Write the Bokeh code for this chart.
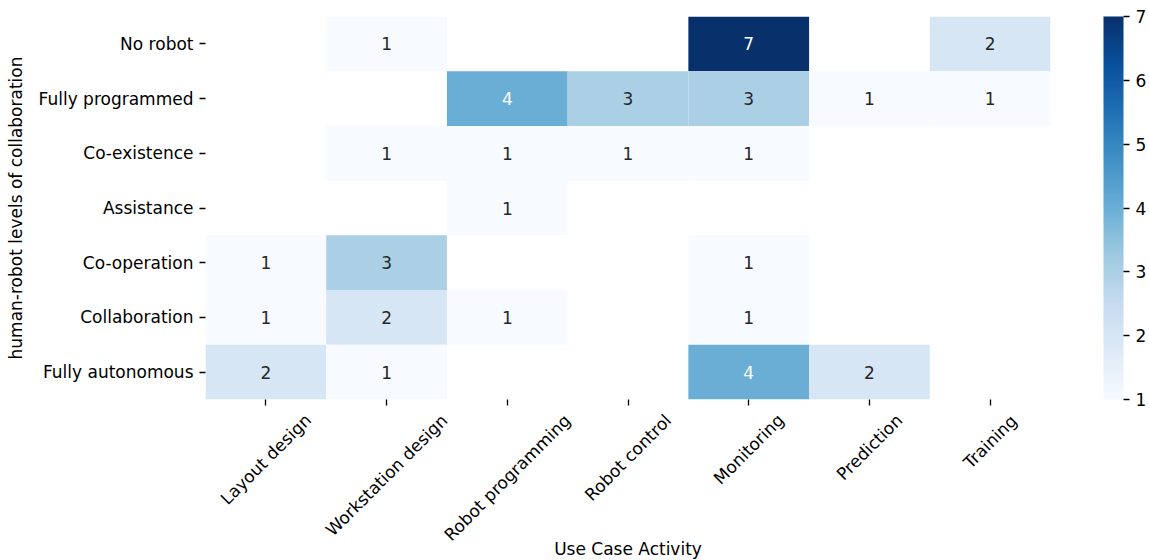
from math import pi, sqrt

from bokeh.plotting import figure
from bokeh.layouts import column
from bokeh.models import (ColumnDataSource, LinearColorMapper, ColorBar,
                          FixedTicker, Range1d)
from bokeh.palettes import Blues256
from bokeh.core.properties import value
from bokeh.embed import file_html
from bokeh.resources import INLINE

activities = ["Layout design", "Workstation design", "Robot programming",
              "Robot control", "Monitoring", "Prediction", "Training"]
levels = ["No robot", "Fully programmed", "Co-existence", "Assistance",
          "Co-operation", "Collaboration", "Fully autonomous"]

# number of studies per collaboration level and use-case activity (None = none)
no_robot = [None, 1, None, None, 7, None, 2]
fully_programmed = [None, None, 4, 3, 3, 1, 1]
co_existence = [None, 1, 1, 1, 1, None, None]
assistance = [None, None, 1, None, None, None, None]
co_operation = [1, 3, None, None, 1, None, None]
collaboration = [1, 2, 1, None, 1, None, None]
fully_autonomous = [2, 1, None, None, 4, 2, None]

colorbar_ticks = [1, 2, 3, 4, 5, 6, 7]

x_title = "Use Case Activity"
y_title = "human-robot levels of collaboration"

rows = [no_robot, fully_programmed, co_existence, assistance,
        co_operation, collaboration, fully_autonomous]

FONT = "DejaVu Sans"
FONT_PX = 17
LOW, HIGH = 1, 7
palette = list(Blues256)[::-1]          # light -> dark
mapper = LinearColorMapper(palette=palette, low=LOW, high=HIGH)

# DejaVu Sans advance widths (font units, 2048 per em) for the label glyphs
ADVANCE = {" ": 651, "A": 1401, "C": 1430, "L": 1141, "M": 1767, "P": 1235,
           "R": 1423, "T": 1251, "U": 1499, "W": 2025, "a": 1255, "b": 1300,
           "c": 1126, "d": 1300, "e": 1260, "g": 1300, "i": 569, "k": 1186,
           "l": 569, "m": 1995, "n": 1298, "o": 1253, "p": 1300, "r": 842,
           "s": 1067, "t": 803, "u": 1298, "v": 1212, "y": 1212}


def text_width(s):
    return sum(ADVANCE.get(ch, 1250) for ch in s) / 2048 * FONT_PX


def cell_colour(v):
    idx = int((v - LOW) / (HIGH - LOW) * len(palette))
    return palette[min(max(idx, 0), len(palette) - 1)]


def label_colour(v):
    # dark text on light cells, white text on dark cells
    hexc = cell_colour(v).lstrip("#")
    rgb = [int(hexc[i:i + 2], 16) / 255 for i in (0, 2, 4)]
    lin = [c / 12.92 if c <= 0.03928 else ((c + 0.055) / 1.055) ** 2.4 for c in rgb]
    lum = 0.2126 * lin[0] + 0.7152 * lin[1] + 0.0722 * lin[2]
    return "#262626" if lum > 0.408 else "#ffffff"


xs, ys, vals, texts, tcols = [], [], [], [], []
for level, counts in zip(levels, rows):
    for activity, v in zip(activities, counts):
        if v is None:
            continue
        xs.append(activity)
        ys.append(level)
        vals.append(v)
        texts.append(str(v))
        tcols.append(label_colour(v))

src = ColumnDataSource(dict(x=xs, y=ys, value=vals, label=texts, tc=tcols))

LEFT, RIGHT = 205, 99
TOP_H = 409

# ---- heatmap ------------------------------------------------------------
p = figure(x_range=activities, y_range=levels[::-1], width=1149, height=TOP_H,
           output_backend="svg", toolbar_location=None,
           min_border_left=LEFT, min_border_right=RIGHT,
           min_border_top=16, min_border_bottom=TOP_H - 399,
           y_axis_label=y_title)
p.outline_line_color = None
p.grid.grid_line_color = None
p.background_fill_color = "white"
p.border_fill_color = "white"

p.rect(x="x", y="y", width=1, height=1, source=src,
       fill_color={"field": "value", "transform": mapper}, line_color=None)
p.text(x="x", y="y", text="label", source=src, text_color="tc",
       text_align="center", text_baseline="middle",
       text_font=value(FONT), text_font_size=f"{FONT_PX}px")

for ax in (p.xaxis[0], p.yaxis[0]):
    ax.axis_line_color = None
    ax.major_tick_out = 6
    ax.major_tick_in = 0
    ax.major_tick_line_color = "black"
    ax.major_tick_line_width = 1.3
    ax.major_label_text_font = FONT
    ax.major_label_text_font_size = f"{FONT_PX}px"
    ax.major_label_text_color = "black"
    ax.major_label_standoff = 6
    ax.axis_label_text_font = FONT
    ax.axis_label_text_font_size = f"{FONT_PX}px"
    ax.axis_label_text_font_style = "normal"
    ax.axis_label_text_color = "black"

p.yaxis.axis_label_standoff = 10
# x tick marks only; the rotated names are drawn centred under the ticks below
p.xaxis.major_label_text_color = None
p.xaxis.major_label_standoff = 0

cb = ColorBar(color_mapper=mapper, width=20, height=383,
              ticker=FixedTicker(ticks=colorbar_ticks),
              major_tick_out=6, major_tick_in=0,
              major_tick_line_color="black", major_tick_line_width=1.3,
              minor_tick_line_color=None,
              major_label_text_font=FONT, major_label_text_font_size=f"{FONT_PX}px",
              major_label_text_color="black", label_standoff=6,
              bar_line_color=None, border_line_color=None,
              padding=0, margin=0, location=(53, 0))
p.add_layout(cb, "right")

# ---- rotated activity names and x-axis title ----------------------------
BOTTOM_H = 560 - TOP_H
q = figure(x_range=p.x_range, y_range=Range1d(-BOTTOM_H, 0), width=1149,
           height=BOTTOM_H, output_backend="svg", toolbar_location=None,
           min_border_left=LEFT, min_border_right=RIGHT,
           min_border_top=0, min_border_bottom=0,
           x_axis_location=None, y_axis_location=None)
q.outline_line_color = None
q.grid.grid_line_color = None
q.background_fill_color = "white"
q.border_fill_color = "white"

name_src = ColumnDataSource(dict(
    x=activities,
    text=activities,
    y=[-(7.5 + text_width(a) / (2 * sqrt(2))) for a in activities],
))
q.text(x="x", y="y", text="text", source=name_src, angle=pi / 4,
       text_align="center", text_baseline="middle",
       text_font=value(FONT), text_font_size=f"{FONT_PX}px",
       text_color="black")

# axis title, centred on the category span
q.text(x=[len(activities) / 2], y=[-139], text=[x_title],
       text_align="center", text_baseline="middle",
       text_font=value(FONT), text_font_size=f"{FONT_PX}px",
       text_color="black")

layout = column(p, q, spacing=0)
open("out.html", "w").write(file_html(layout, INLINE))
